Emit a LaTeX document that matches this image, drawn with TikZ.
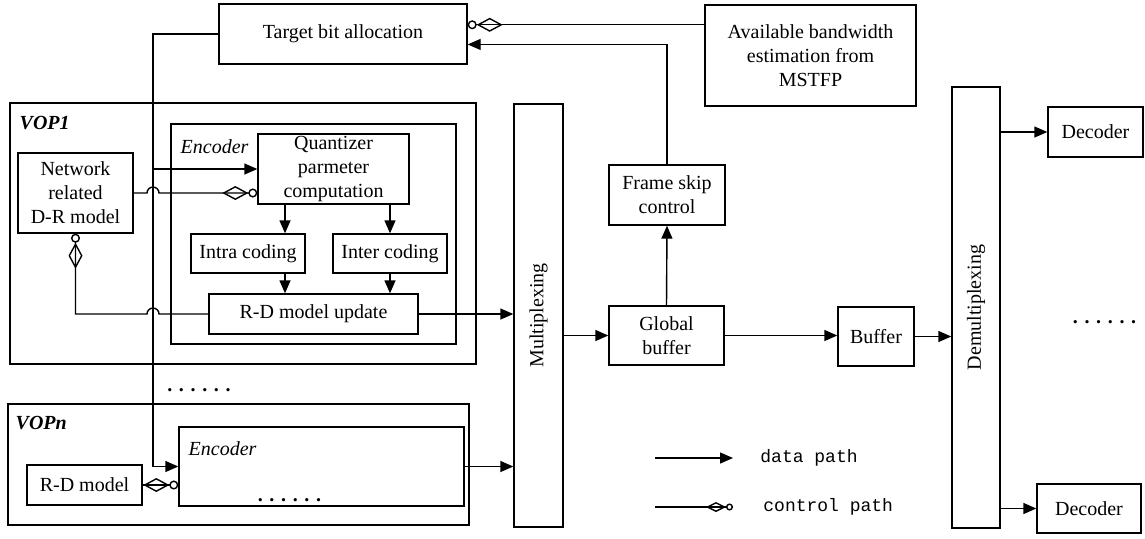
\documentclass[tikz,border=0pt]{standalone}
\usepackage{fontspec}
\setmainfont{Liberation Serif}
\newfontfamily\legendfont{Liberation Mono}
\usepackage{graphicx}
\usetikzlibrary{positioning,calc}
\usetikzlibrary{arrows.meta}
\tikzset{
  blk/.style={draw=black,line width=0.7pt,inner sep=0.5pt,align=center},
  grp/.style={draw=black,line width=0.7pt,inner sep=0pt},
  sz/.style 2 args={minimum width=#1,minimum height=#2},
  tag/.style={inner sep=0pt,anchor=north west},
  data/.style={draw=black,line width=0.7pt,-{Triangle[length=6.5pt,width=5.5pt]}},
  ctrl/.style={draw=black,line width=0.7pt,-{Diamond[open,length=13pt,width=7pt]Circle[open,length=4.5pt]}},
}
\tikzset{ctrlsm/.style={draw=black,line width=0.7pt,-{Diamond[open,length=10pt,width=5pt]Circle[open,length=3.5pt]}}, dots/.style={inner sep=0pt,font=\bfseries}, legend/.style={inner sep=0pt,anchor=west,font=\legendfont\fontsize{9}{11}\selectfont}}

\begin{document}
\begin{tikzpicture}[x=0.5pt,y=-0.5pt]
\useasboundingbox (0,0) rectangle (1145,538);
\node[blk,sz={124pt}{30pt}] (tgt) at (343,34) {Target bit allocation};
\node[blk,sz={105.5pt}{50.5pt}] (avl) at (810.5,55.5) {Available bandwidth\\estimation from\\MSTFP};
% first VOP
\node[grp,sz={233pt}{130.5pt}] (vop1) at (243,233.5) {};
\node[tag,font=\bfseries\itshape] (vop1lab) at ($(vop1.north west)+(10,14)$) {VOP1};
\node[grp,sz={142.5pt}{110pt}] (enc1) at (313.5,234) {};
\node[tag,font=\itshape] (enc1lab) at ($(enc1.north west)+(10,16)$) {Encoder};
\node[blk,sz={75.5pt}{35pt}] (qpc) at (333.5,169) {Quantizer\\parmeter\\computation};
\node[blk,sz={57.5pt}{40pt}] (net) at (75.5,193) {Network\\related\\D-R model};
\node[blk,sz={57pt}{19.5pt}] (intra) at (248,253.5) {Intra coding};
\node[blk,sz={57pt}{19.5pt}] (inter) at (390,253.5) {Inter coding};
\node[blk,sz={104.5pt}{20pt}] (rdu) at (313.5,314) {R-D model update};
\node[dots] (dvop) at (199,390) {. . . . . .};
% last VOP
\node[grp,sz={230.5pt}{60.5pt}] (vopn) at (238.5,464.5) {};
\node[tag,font=\bfseries\itshape] (vopnlab) at ($(vopn.north west)+(8,13)$) {VOPn};
\node[grp,sz={142.5pt}{39.5pt}] (encn) at (321.5,466.5) {};
\node[tag,font=\itshape] (encnlab) at ($(encn.north west)+(10,15)$) {Encoder};
\node[blk,sz={57.5pt}{20pt}] (rdm) at (84.5,485) {R-D model};
\node[dots] (denc) at (289.5,500) {. . . . . .};
% network side
\node[blk,sz={24.5pt}{211.5pt}] (mux) at (538.5,315.5) {\rotatebox{90}{Multiplexing}};
\node[blk,sz={58pt}{30pt}] (fsk) at (667,195) {Frame skip\\control};
\node[blk,sz={57.5pt}{29.5pt}] (glob) at (666.5,335.5) {Global\\buffer};
\node[blk,sz={38pt}{29.5pt}] (buf) at (876,336.5) {Buffer};
\node[blk,sz={24pt}{220.5pt}] (dmx) at (976,307.5) {\rotatebox{90}{Demultiplexing}};
\node[blk,sz={47.5pt}{25pt}] (dec1) at (1095.5,132) {Decoder};
\node[blk,sz={52pt}{24.5pt}] (dec2) at (1089,508.5) {Decoder};
\node[dots] (dout) at (1104.5,322) {. . . . . .};

\coordinate (bus) at (153,0);
\coordinate (ia) at (285,0);
\draw[data] (tgt.west) -| (bus |- encn.west) -- (encn.west);
\draw[data] (bus |- qpc.west) -- (qpc.west);
\draw[ctrl] (net.east) -- ($(net.east -| bus)+(-6,0)$) arc[start angle=180,end angle=0,radius=3pt] -- (net.east -| qpc.west);
\draw[ctrl] (rdu.west) -- ($(rdu.west -| bus)+(6,0)$) arc[start angle=0,end angle=180,radius=3pt] -| (net.south);
\draw[data] (qpc.south -| ia) -- (intra.north -| ia);
\draw[data] (intra.south -| ia) -- (rdu.north -| ia);
\draw[data] (qpc.south -| inter.north) -- (inter.north);
\draw[data] (inter.south) -- (inter.south |- rdu.north);
\draw[data] (rdu.east) -- (rdu.east -| mux.west);
\draw[ctrl] (rdm.east) -- (rdm.east -| encn.west);
\draw[data] (encn.east) -- (encn.east -| mux.west);
\draw[data] (glob.west -| mux.east) -- (glob.west);
\draw[data] (glob.north) -- (fsk.south);
\draw[data] (fsk.north) |- ($(tgt.north east)!0.67!(tgt.south east)$);
\coordinate (avlc) at ($(avl.north west)!0.2!(avl.south west)$);
\draw[ctrl] (avlc) -- (avlc -| tgt.east);
\draw[data] (glob.east) -- (glob.east -| buf.west);
\draw[data] (buf.east) -- (buf.east -| dmx.west);
\draw[data] (dec1.west -| dmx.east) -- (dec1.west);
\draw[data] (dec2.west -| dmx.east) -- (dec2.west);

% legend
\coordinate (lda) at (655,458);
\coordinate (ldb) at (733,458);
\draw[data] (lda) -- (ldb);
\node[legend] (ldt) at (760,458) {data path};
\coordinate (lca) at (655,507);
\coordinate (lcb) at (733,507);
\draw[ctrlsm] (lca) -- (lcb);
\node[legend] (lct) at (763,507) {control path};
\end{tikzpicture}
\end{document}
